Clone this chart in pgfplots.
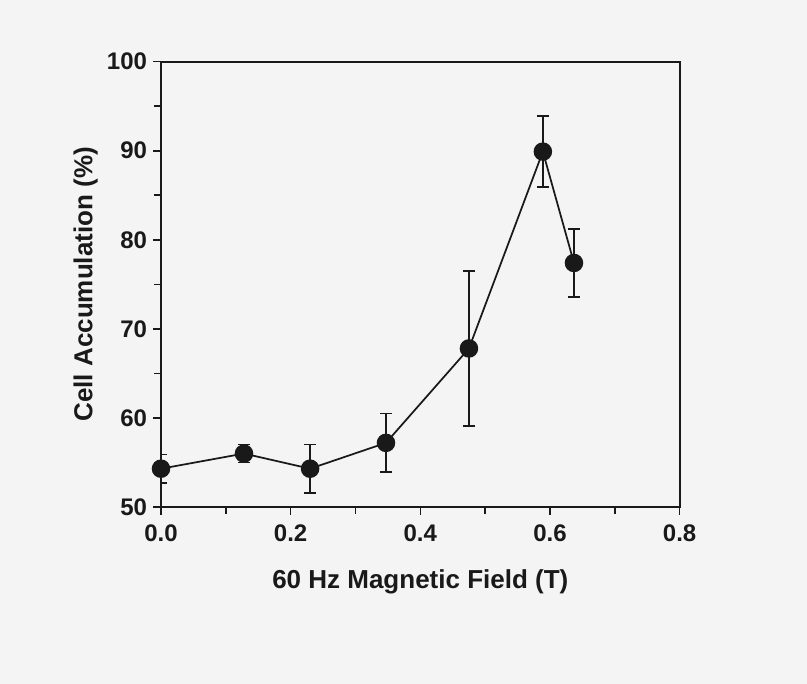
\documentclass[border=0pt]{standalone}
\usepackage{pgfplots}
\pgfplotsset{compat=1.18}
\usepackage{fontspec}
\setmainfont{Liberation Sans}
\definecolor{paper}{RGB}{244,244,244}
\definecolor{ink}{RGB}{25,25,25}

\begin{document}
\begin{tikzpicture}
\fill[paper,use as bounding box] (-120.75pt,-132.75pt) rectangle (484.5pt,380.25pt);
\begin{axis}[
    at={(0pt,0pt)}, anchor=south west,
    scale only axis,
    width=389pt, height=334pt,
    xmin=0, xmax=0.8, ymin=50, ymax=100,
    xtick={0,0.2,0.4,0.6,0.8},
    minor xtick={0.1,0.3,0.5,0.7},
    ytick={50,60,70,80,90,100},
    minor ytick={55,65,75,85,95},
    xticklabel style={yshift=-4pt, /pgf/number format/.cd,fixed,fixed zerofill,precision=1},
    yticklabel style={xshift=-1pt},
    /pgf/number format/assume math mode=true,
    tick align=outside,
    xtick pos=bottom, ytick pos=left,
    major tick length=6pt, minor tick length=5pt,
    every tick/.style={ink, line width=1.2pt},
    axis line style={ink, line width=1.4pt},
    tick label style={font=\fontsize{18}{20}\selectfont\bfseries, text=ink},
    label style={font=\fontsize{19.5}{22}\selectfont\bfseries, text=ink},
    xlabel={60 Hz Magnetic Field (T)},
    ylabel={Cell Accumulation (\%)},
    xlabel style={yshift=-14pt},
    ylabel style={yshift=0pt},
]
\addplot[ink, line width=1.3pt, mark=*, mark size=6.3pt,
    mark options={fill=ink, draw=ink},
    error bars/.cd, y dir=both, y explicit,
    error bar style={ink, line width=1.2pt},
    error mark options={rotate=90, mark size=4.5pt, ink, line width=1.2pt}]
coordinates {
    (0.000, 54.3) +- (0, 1.6)
    (0.128, 56.0) +- (0, 1.0)
    (0.230, 54.3) +- (0, 2.7)
    (0.347, 57.2) +- (0, 3.3)
    (0.475, 67.8) +- (0, 8.7)
    (0.589, 89.9) +- (0, 4.0)
    (0.637, 77.4) +- (0, 3.8)
};
\end{axis}
\end{tikzpicture}
\end{document}
